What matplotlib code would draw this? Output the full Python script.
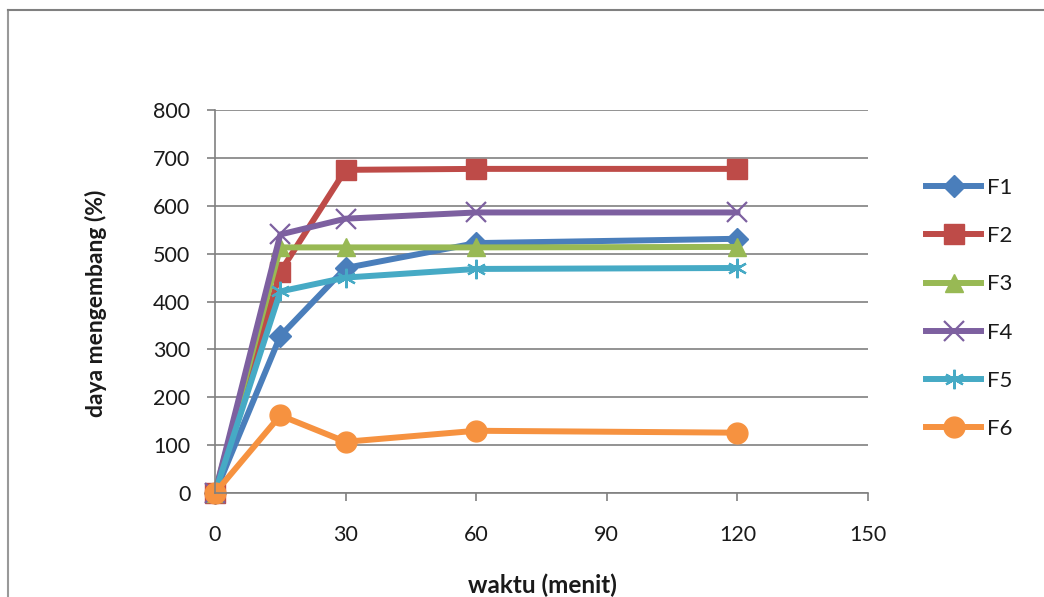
import matplotlib
matplotlib.use("Agg")
import matplotlib.pyplot as plt
from matplotlib.lines import Line2D

x_menit = [0, 15, 30, 60, 120]
series_names = ["F1", "F2", "F3", "F4", "F5", "F6"]
F1 = [0, 328, 470, 522, 531]
F2 = [0, 462, 675, 677, 677]
F3 = [0, 513, 513, 513, 514]
F4 = [0, 540, 573, 586, 586]
F5 = [0, 421, 450, 468, 470]
F6 = [0, 162, 107, 130, 126]
x_ticks = [0, 30, 60, 90, 120, 150]
y_ticks = [0, 100, 200, 300, 400, 500, 600, 700, 800]

colors = ["#4a7ebb", "#be4b48", "#98b954", "#7d60a0", "#46aac5", "#f69240"]
markers = ["D", "s", "^", "x", (6, 2, 0), "o"]
msizes = [11, 15, 13, 14, 14, 15]

plt.rcParams['font.family'] = ['Lato', 'DejaVu Sans']

W, H = 1044, 597
fig = plt.figure(figsize=(W/100, H/100), dpi=100)
ax = fig.add_axes([215/W, 1-493/H, (868-215)/W, (493-110)/H])

for name, vals, c, m, ms in zip(series_names, [F1, F2, F3, F4, F5, F6], colors, markers, msizes):
    if m == "x" or isinstance(m, tuple):
        ax.plot(x_menit, vals, color=c, lw=4.3, marker=m, ms=ms, mew=1.6,
                mec=c, label=name, clip_on=False)
    else:
        ax.plot(x_menit, vals, color=c, lw=4.3, marker=m, ms=ms, mec=c, mfc=c,
                label=name, clip_on=False)

ax.set_xlim(0, 150)
ax.set_ylim(0, 800)
ax.set_xticks(x_ticks)
ax.set_yticks(y_ticks)
ax.tick_params(axis='both', labelsize=15.5, colors='#808080', labelcolor='#1a1a1a',
               length=5.8, width=1.2)
ax.tick_params(axis='x', pad=17)
ax.tick_params(axis='y', pad=12)
ax.yaxis.grid(True, color='#808080', lw=1.2)
ax.set_axisbelow(True)
for s in ['top', 'right']:
    ax.spines[s].set_visible(False)
for s in ['left', 'bottom']:
    ax.spines[s].set_color('#808080')
    ax.spines[s].set_linewidth(1.2)

fig.text(542/W, 1-585/H, "waktu (menit)", fontsize=17.5, fontweight='bold',
         ha='center', va='center', color='#1a1a1a')
fig.text(96/W, 1-303/H, "daya mengembang (%)", fontsize=16.5, fontweight='bold',
         ha='center', va='center', rotation=90, color='#1a1a1a')

leg = fig.legend(loc='upper left', bbox_to_anchor=(906/W, 1-158/H),
                 frameon=False, fontsize=16, labelspacing=1.27,
                 handlelength=2.48, handletextpad=0.27)
for t in leg.get_texts():
    t.set_color('#1a1a1a')

# outer frame lines
fig.add_artist(Line2D([8/W, 8/W], [0, 1-10/H], transform=fig.transFigure,
                      color='#999999', lw=1.5))
fig.add_artist(Line2D([8/W, 1], [1-10/H, 1-10/H], transform=fig.transFigure,
                      color='#808080', lw=1.5))

fig.savefig("out.png", dpi=100)
